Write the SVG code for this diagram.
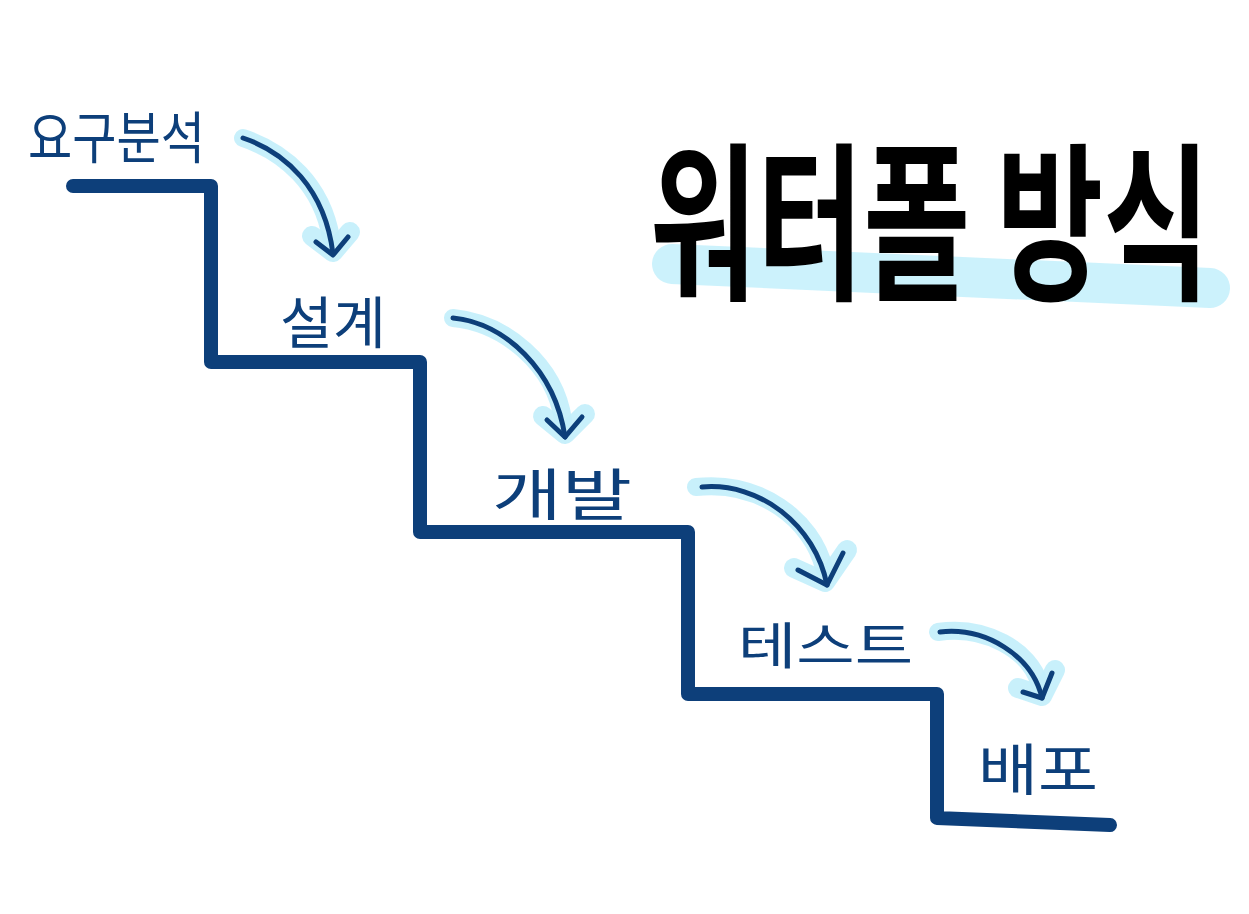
<svg xmlns="http://www.w3.org/2000/svg" width="1249" height="914" viewBox="0 0 1249 914">
<style>
.stair{fill:none;stroke:#0d3f7a;stroke-width:14;stroke-linecap:round;stroke-linejoin:round}
.hl{fill:none;stroke:#c2eefb;stroke-linecap:round;stroke-linejoin:round;opacity:0.9}
.arr{fill:none;stroke:#0d3f7a;stroke-width:5;stroke-linecap:round;stroke-linejoin:round}
.lbl{font-family:"Noto Sans CJK KR","Noto Sans",sans-serif;font-weight:400;fill:#0d3f7a}
.title{font-family:"Noto Sans CJK KR","Noto Sans",sans-serif;font-weight:700;fill:#000}
</style>
<rect width="1249" height="914" fill="#fff"/>
<g id="title">
<path class="hl" d="M672,264 L1210,288" stroke-width="40" style="stroke:#c6f1fc"/>
<g transform="translate(650,287) scale(1,1.55)">
<text class="title" x="0" y="0" font-size="110" textLength="560" lengthAdjust="spacingAndGlyphs">워터폴 방식</text>
</g>
</g>
<g id="connectors">
<path id="stairs" class="stair" d="M73,186 L211,186 L211,362 L420,362 L420,532 L688,532 L688,694 L937,694 L937,818 L1110,825"/>
<g id="arrow1">
<path class="hl" stroke-width="18" d="M243,138 C285,152 322,185 331,238"/>
<path class="hl" stroke-width="20" d="M312,236 L333,252 L350,232"/>
<path class="arr" d="M243,138 C285,152 325,188 333,254"/>
<path class="arr" d="M316,242 L333,255 L348,237"/>
</g>
<g id="arrow2">
<path class="hl" stroke-width="18" d="M453,318 C505,323 555,365 563,420"/>
<path class="hl" stroke-width="20" d="M543,416 L565,434 L585,414"/>
<path class="arr" d="M453,318 C505,323 555,370 565,437"/>
<path class="arr" d="M547,420 L565,437 L582,417"/>
</g>
<g id="arrow3">
<path class="hl" stroke-width="18" d="M696,487 C760,480 812,520 824,568"/>
<path class="hl" stroke-width="20" d="M794,568 L825,582 L847,550"/>
<path class="arr" d="M702,487 C760,482 815,525 827,585"/>
<path class="arr" d="M798,570 L827,585 L843,553"/>
</g>
<g id="arrow4">
<path class="hl" stroke-width="18" d="M938,632 C985,625 1030,650 1040,685"/>
<path class="hl" stroke-width="20" d="M1018,688 L1042,696 L1055,670"/>
<path class="arr" d="M940,632 C985,627 1032,655 1042,698"/>
<path class="arr" d="M1023,692 L1042,698 L1052,673"/>
</g>
</g>
<g id="n1"><text class="lbl" x="28" y="158" font-size="56" textLength="177" lengthAdjust="spacingAndGlyphs">요구분석</text></g>
<g id="n2"><text class="lbl" x="280" y="343" font-size="56" textLength="106" lengthAdjust="spacingAndGlyphs">설계</text></g>
<g id="n3"><text class="lbl" x="492" y="515" font-size="56" textLength="140" lengthAdjust="spacingAndGlyphs">개발</text></g>
<g id="n4"><text class="lbl" x="738" y="664" font-size="50" textLength="175" lengthAdjust="spacingAndGlyphs">테스트</text></g>
<g id="n5"><text class="lbl" x="978" y="790" font-size="56" textLength="120" lengthAdjust="spacingAndGlyphs">배포</text></g>
</svg>
